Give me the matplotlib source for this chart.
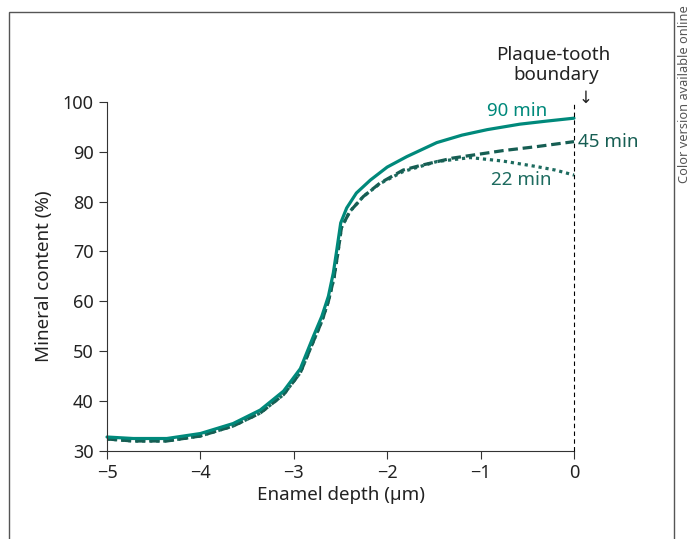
import matplotlib
matplotlib.use("Agg")
import matplotlib.pyplot as plt
from matplotlib.patches import Rectangle

plt.rcParams['font.family'] = ['Noto Sans', 'DejaVu Sans']

# enamel depth (µm) and mineral content (%)
depth_90 = [-5.0, -4.72, -4.36, -4.0, -3.65, -3.36, -3.11, -2.93, -2.79, -2.70, -2.63,
            -2.577, -2.54, -2.498, -2.434, -2.33, -2.18, -2.0, -1.79, -1.47, -1.2,
            -0.93, -0.58, -0.3, 0.0]
mineral_90 = [32.8, 32.5, 32.5, 33.5, 35.5, 38.2, 42.0, 46.5, 53.0, 57.0, 61.0,
              65.7, 70.3, 75.7, 78.7, 81.7, 84.3, 86.9, 89.0, 91.8, 93.3,
              94.4, 95.5, 96.1, 96.7]

depth_45 = [-5.0, -4.72, -4.36, -4.0, -3.65, -3.36, -3.11, -2.93, -2.79, -2.70, -2.63,
            -2.57, -2.53, -2.49, -2.40, -2.256, -2.077, -1.83, -1.65, -1.3, -0.76,
            -0.4, 0.0]
mineral_45 = [32.4, 32.0, 32.0, 33.0, 35.0, 37.6, 41.3, 45.7, 52.0, 56.0, 60.0,
              64.7, 69.5, 74.8, 78.0, 81.0, 83.7, 86.3, 87.2, 88.7, 90.2,
              91.0, 92.0]

depth_22 = [-5.0, -4.72, -4.36, -4.0, -3.65, -3.36, -3.11, -2.93, -2.79, -2.70, -2.63,
            -2.57, -2.53, -2.49, -2.40, -2.256, -2.077, -1.83, -1.47, -1.11, -0.76,
            -0.4, -0.2, 0.0]
mineral_22 = [32.4, 32.0, 32.0, 33.0, 35.0, 37.6, 41.3, 45.7, 52.0, 56.0, 60.0,
              64.7, 69.5, 74.8, 78.0, 81.0, 83.6, 86.0, 88.0, 88.8, 88.1,
              87.0, 86.3, 85.3]

teal = "#00897b"
dark = "#165e53"
dark2 = "#1d6b5f"

fig = plt.figure(figsize=(6.91, 5.39), dpi=100)
ax = fig.add_axes([0.1549, 0.1633, 0.6758, 0.648])

# outer frame
fig.patches.append(Rectangle((9 / 691, -0.05), 665 / 691, 1 - 12 / 539 + 0.05,
                             transform=fig.transFigure, fill=False,
                             edgecolor="#555555", linewidth=1.0))

ax.plot(depth_22, mineral_22, color=dark2, linewidth=2.3, linestyle=(0, (1, 1.2)),
        clip_on=False, solid_joinstyle="round")
ax.plot(depth_45, mineral_45, color=dark, linewidth=2.3, linestyle=(0, (3, 1.5)),
        clip_on=False)
ax.plot(depth_90, mineral_90, color=teal, linewidth=2.3, clip_on=False,
        solid_joinstyle="round", solid_capstyle="round")

ax.axvline(0, color="black", linewidth=0.8, linestyle=(0, (4, 3)), clip_on=False,
           zorder=5)

ax.set_xlim(-5, 0)
ax.set_ylim(30, 100)
ax.set_xticks([-5, -4, -3, -2, -1, 0])
ax.set_xticklabels(["\u22125", "\u22124", "\u22123", "\u22122", "\u22121", "0"])
ax.set_yticks(range(30, 101, 10))
ax.spines['top'].set_visible(False)
ax.spines['right'].set_visible(False)
ax.spines['left'].set_color("#333333")
ax.spines['bottom'].set_color("#333333")
ax.tick_params(labelsize=13, length=6, color="#333333", labelcolor="#222222")

ax.set_xlabel("Enamel depth (µm)", fontsize=13.5, color="#222222", labelpad=3)
ax.set_ylabel("Mineral content (%)", fontsize=13.5, color="#222222", labelpad=7)

ax.text(-0.61, 98.1, "90 min", color=teal, fontsize=13.5, ha="center", va="center")
ax.text(0.04, 91.9, "45 min", color=dark, fontsize=13.5, ha="left", va="center",
        clip_on=False)
ax.text(-0.57, 84.3, "22 min", color=dark2, fontsize=13.5, ha="center", va="center")

ax.text(-0.22, 109.3, "Plaque-tooth", fontsize=13.5, ha="center", va="center",
        color="#222222", clip_on=False)
ax.text(-0.19, 105.3, "boundary", fontsize=13.5, ha="center", va="center",
        color="#222222", clip_on=False)
ax.text(0.12, 100.6, "\u2193", fontsize=12, ha="center", va="center",
        color="#222222", clip_on=False)

fig.text(684 / 691, 1 - 5 / 539, "Color version available online", rotation=90,
         fontsize=9.2, color="#555555", ha="center", va="top")

fig.savefig("out.png", dpi=100)
